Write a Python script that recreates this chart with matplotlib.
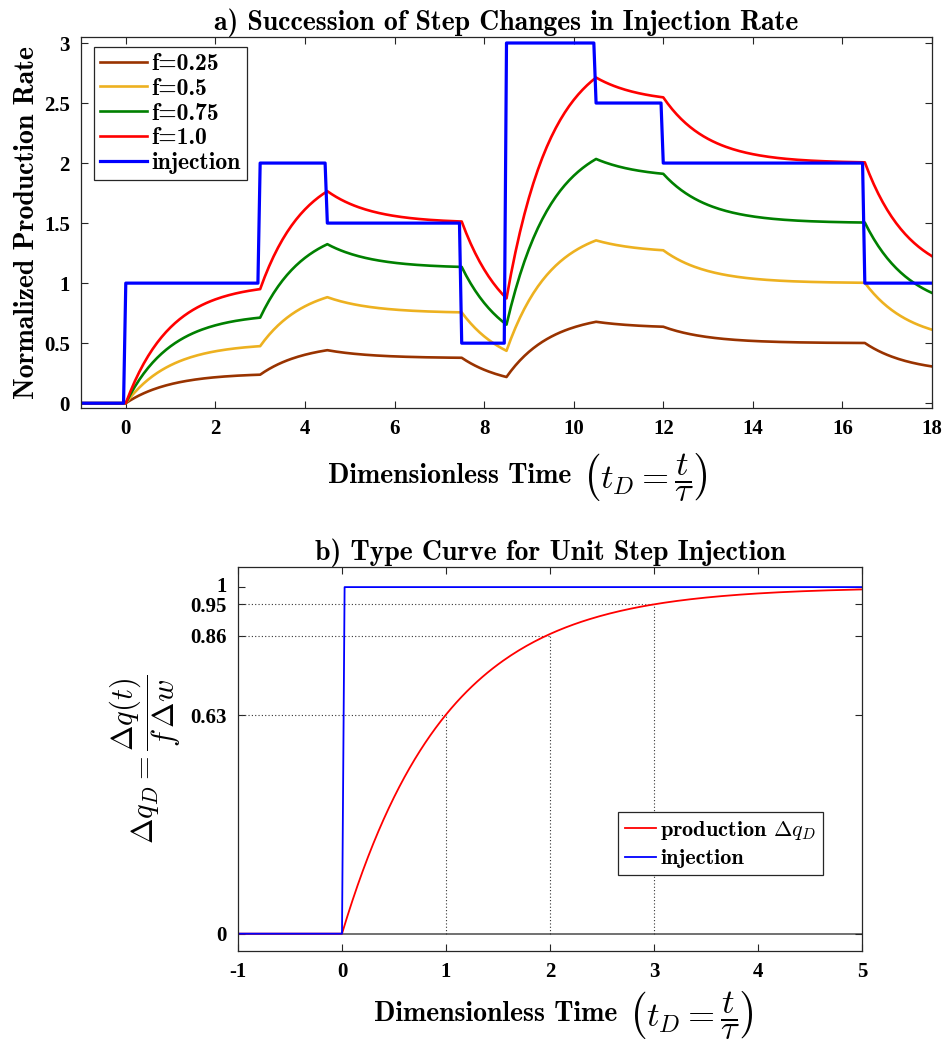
import os
import numpy as np
import matplotlib
import matplotlib.pyplot as plt
import matplotlib.transforms as mtransforms
from matplotlib.font_manager import FontProperties

plt.rcParams['mathtext.fontset'] = 'cm'
plt.rcParams['axes.unicode_minus'] = False

# injection schedule (dimensionless time of each rate change, new rate)
step_times = [0, 3, 4.5, 7.5, 8.5, 10.5, 12, 16.5]
step_rates = [1, 2, 1.5, 0.5, 3, 2.5, 2, 1]
tau = 1.0

f_values = [0.25, 0.5, 0.75, 1.0]
f_labels = ['f=0.25', 'f=0.5', 'f=0.75', 'f=1.0']
f_colors = [[0.6, 0.2, 0.0], [0.929, 0.694, 0.125], [0.0, 0.5, 0.0], [1.0, 0.0, 0.0]]

# unit step type curve: reference points read at t = 1, 2, 3 tau
mark_t = [1, 2, 3]
mark_q = [0.63, 0.86, 0.95]
type_yticks = [0, 0.63, 0.86, 0.95, 1]

CMB = os.path.join(matplotlib.get_data_path(), 'fonts', 'ttf', 'cmb10.ttf')


def cmb(size):
    return FontProperties(fname=CMB, size=size)


TICKFONT = FontProperties(family='Liberation Serif', weight='bold', size=15)
W, H = 947, 1049


def injection(t):
    idx = np.searchsorted(step_times, t, side='left') - 1
    rates = np.array(step_rates, dtype=float)
    return np.where(idx >= 0, rates[np.clip(idx, 0, None)], 0.0)


def crm_response(t, f):
    # superposition of exponential responses to each change in rate
    dw = np.diff(np.concatenate([[0.0], step_rates]))
    q = np.zeros_like(t)
    for tk, d in zip(step_times, dw):
        on = t > tk
        q[on] += d * (1 - np.exp(-(t[on] - tk) / tau))
    return f * q


def style_axes(ax):
    ax.tick_params(direction='in', top=True, right=True, length=5, width=0.8,
                   color='0.15', pad=8)
    for s in ax.spines.values():
        s.set_color('0.15')
        s.set_linewidth(0.9)
    for lab in ax.get_xticklabels() + ax.get_yticklabels():
        lab.set_fontproperties(TICKFONT)


def time_label(fig, x_end, yc):
    # bold words plus a larger math part, placed in pixels
    fig.text(x_end / W, 1 - yc / H, 'Dimensionless Time', ha='right',
             va='center', fontproperties=cmb(20))
    fig.text((x_end + 11) / W, 1 - (yc + 1) / H, r'$\left(t_D=\dfrac{t}{\tau}\right)$',
             ha='left', va='center', fontsize=25)


fig = plt.figure(figsize=(W / 100, H / 100), dpi=100)
ax1 = fig.add_axes([81 / W, 1 - 408 / H, 851 / W, 371 / H])
ax2 = fig.add_axes([238 / W, 1 - 951 / H, 624 / W, 384 / H])

# a) succession of steps
t = np.arange(-1, 18.0001, 0.05)
w = injection(t)
for f, lab, c in zip(f_values, f_labels, f_colors):
    ax1.plot(t, crm_response(t, f), color=c, lw=1.9, label=lab)
ax1.plot(t, w, color='blue', lw=2.3, label='injection')
ax1.set_xlim(-1, 18)
ax1.set_ylim(-0.04, 3.05)
ax1.set_xticks(np.arange(0, 19, 2))
ax1.set_yticks([0, 0.5, 1, 1.5, 2, 2.5, 3])
ax1.set_yticklabels(['0', '0.5', '1', '1.5', '2', '2.5', '3'])
style_axes(ax1)
ax1.set_title('a) Succession of Step Changes in Injection Rate',
              fontproperties=cmb(20), pad=5)
ax1.set_ylabel('Normalized Production Rate', fontproperties=cmb(20), labelpad=3)
time_label(fig, 571, 476)
leg1 = ax1.legend(loc='upper left', bbox_to_anchor=(0.0153, 0.973),
                  prop=cmb(17), fancybox=False, framealpha=1,
                  edgecolor='0.15', handlelength=2.0, handletextpad=0.2,
                  borderpad=0.25, labelspacing=0.12, borderaxespad=0)
leg1.get_frame().set_linewidth(0.9)

# b) type curve for a unit step
t2 = np.round(np.arange(-1, 5.0001, 0.025), 4)
inj2 = np.where(t2 > 0, 1.0, 0.0)
dq = np.where(t2 > 0, 1 - np.exp(-np.clip(t2, 0, None) / tau), 0.0)
ax2.axhline(0, color='0.35', lw=1.2, zorder=1)
for tm, qm in zip(mark_t, mark_q):
    ax2.plot([-1, tm], [qm, qm], color='0.2', ls=(0, (1, 2)), lw=0.8)
    ax2.plot([tm, tm], [0, qm], color='0.2', ls=(0, (1, 2)), lw=0.8)
ax2.plot(t2, dq, color='red', lw=1.3, label=r'production $\Delta q_D$')
ax2.plot(t2, inj2, color='blue', lw=1.3, label='injection')
ax2.set_xlim(-1, 5)
ax2.set_ylim(-0.05, 1.058)
ax2.set_xticks(range(-1, 6))
ax2.set_yticks(type_yticks)
ax2.set_yticklabels(['0', '0.63', '0.86', '0.95', '1'])
style_axes(ax2)
# the "1" label sits right on top of "0.95"; lift it a little
top_lab = ax2.get_yticklabels()[-1]
top_lab.set_transform(top_lab.get_transform() +
                      mtransforms.ScaledTranslation(0, 3 / 100, fig.dpi_scale_trans))
ax2.set_title('b) Type Curve for Unit Step Injection', fontproperties=cmb(20), pad=5)
time_label(fig, 617, 1014)
ax2.set_ylabel(r'$\Delta q_D=\dfrac{\Delta q(t)}{f\,\Delta w}$', fontsize=22, labelpad=5)
leg2 = ax2.legend(loc='lower left', bbox_to_anchor=(0.609, 0.198),
                  prop=cmb(16), fancybox=False, framealpha=1,
                  edgecolor='0.15', handlelength=1.4, handletextpad=0.2,
                  borderpad=0.3, labelspacing=0.3, borderaxespad=0)
leg2.get_frame().set_linewidth(0.9)

fig.savefig('out.png', dpi=100)
